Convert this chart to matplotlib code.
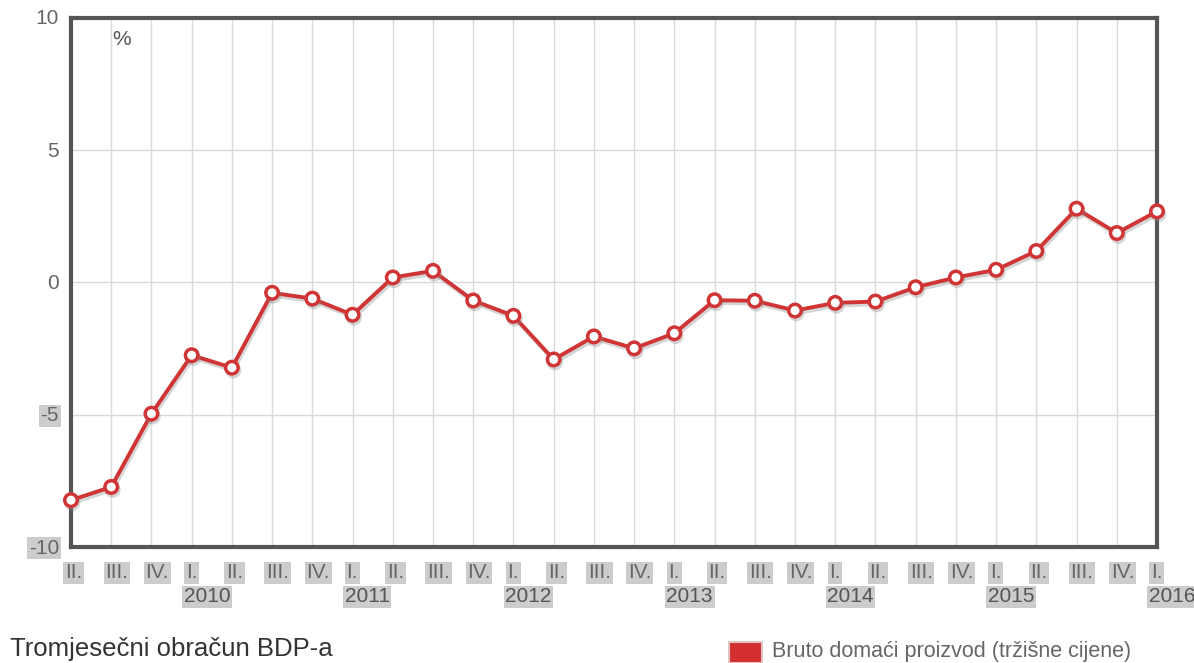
import matplotlib.pyplot as plt
import matplotlib.patheffects as pe
from matplotlib.patches import Rectangle

# Quarterly GDP growth, II. 2009 - I. 2016
quarters = ["II.", "III.", "IV.",
            "I.", "II.", "III.", "IV.",
            "I.", "II.", "III.", "IV.",
            "I.", "II.", "III.", "IV.",
            "I.", "II.", "III.", "IV.",
            "I.", "II.", "III.", "IV.",
            "I.", "II.", "III.", "IV.",
            "I."]
years = ["2010", "2011", "2012", "2013", "2014", "2015", "2016"]
gdp = [-8.23, -7.73, -4.96, -2.75, -3.22, -0.39, -0.61, -1.22, 0.19, 0.44,
       -0.68, -1.26, -2.91, -2.04, -2.49, -1.92, -0.67, -0.69, -1.06, -0.77,
       -0.72, -0.18, 0.19, 0.48, 1.19, 2.79, 1.87, 2.69]
y_ticks = [10, 5, 0, -5, -10]

red = "#d03434"
grey_txt = "#666666"
box = dict(facecolor="#cccccc", edgecolor="none", boxstyle="square,pad=0.08")

plt.rcParams["font.family"] = ["Liberation Sans", "DejaVu Sans"]

fig = plt.figure(figsize=(11.94, 6.63), dpi=100)
ax = fig.add_axes([71 / 1194, 1 - 547 / 663, 1086 / 1194, 529 / 663])

x = list(range(len(gdp)))
ax.plot(x, gdp, color=red, lw=2.8, marker="o", ms=9, mfc="white", mec=red, mew=2.5,
        clip_on=False, zorder=5,
        path_effects=[pe.SimpleLineShadow(offset=(1, -2), shadow_color="#888888", alpha=0.35),
                      pe.Normal()])

ax.set_xlim(0, len(gdp) - 1)
ax.set_ylim(-10, 10)
ax.set_xticks(x)
ax.set_yticks(y_ticks)
ax.set_xticklabels([])
ax.set_yticklabels([])
ax.tick_params(length=0)
ax.grid(True, color="#dadada", lw=1)
for s in ax.spines.values():
    s.set_color("#555555")
    s.set_linewidth(3)

# y labels, negatives get a grey box
for v in y_ticks:
    ax.annotate(str(v), (0, v), xycoords=("axes fraction", "data"), xytext=(-12, -1),
                textcoords="offset pixels", ha="right", va="center", fontsize=15,
                color=grey_txt, bbox=box if v < 0 else None)

# quarter and year labels
xt = ax.get_xaxis_transform()
yi = 0
for i, q in enumerate(quarters):
    ax.annotate(q, (i, 0), xycoords=xt, xytext=(-6, -26), textcoords="offset pixels",
                ha="left", va="center", fontsize=15, color=grey_txt, bbox=box)
    if q == "I.":
        ax.annotate(years[yi], (i, 0), xycoords=xt, xytext=(-8, -50), textcoords="offset pixels",
                    ha="left", va="center", fontsize=15, color="#555555", bbox=box)
        yi += 1

ax.text(0.038, 0.978, "%", transform=ax.transAxes, ha="left", va="top", fontsize=15, color="#555555")

fig.text(10 / 1194, 1 - 649 / 663, "Tromjesečni obračun BDP-a", ha="left", va="center",
         fontsize=18.5, color="#333333")
fig.patches.append(Rectangle((729 / 1194, 0), 33 / 1194, 21 / 663, transform=fig.transFigure,
                             facecolor="#d32f2f", edgecolor="#e0c4c4", lw=1.5))
fig.text(772 / 1194, 1 - 652 / 663, "Bruto domaći proizvod (tržišne cijene)", ha="left",
         va="center", fontsize=15.5, color=grey_txt)

fig.savefig("out.png", dpi=100)
